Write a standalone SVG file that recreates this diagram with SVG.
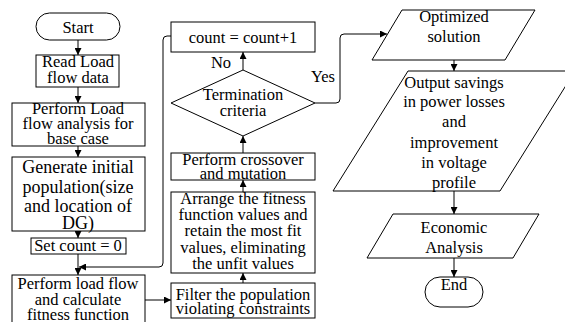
<svg xmlns="http://www.w3.org/2000/svg" width="565" height="322" viewBox="0 0 565 322">
<defs>
<marker id="ah" markerUnits="userSpaceOnUse" markerWidth="8" markerHeight="7" refX="7" refY="3.5" orient="auto">
<path d="M0,0 L7,3.5 L0,7 z" fill="#000"/>
</marker>
<style>
.s{fill:#fff;stroke:#000;stroke-width:1}
.t{font-size:16.5px;fill:#000;text-anchor:middle}
.g{font-size:18px}
.c{fill:none;stroke:#000;stroke-width:1;marker-end:url(#ah)}
</style>
</defs>
<rect width="565" height="322" fill="#fff"/>
<g id="connectors">
<path class="c" d="M78,40 V55"/>
<path class="c" d="M78,87 V103"/>
<path class="c" d="M78,146 V157"/>
<path class="c" d="M78,231 V238"/>
<path class="c" d="M78,254 V275"/>
<path class="c" d="M171,36 H167 Q163,36 163,40 V263 Q163,267 159,267 H79"/>
<path class="c" d="M145,300 H171"/>
<path class="c" d="M243,283 V273"/>
<path class="c" d="M243,192 V180"/>
<path class="c" d="M243,153 V136"/>
<path class="c" d="M243,70 V52"/>
<path class="c" d="M315,103 H336 Q340,103 340,99 V38 Q340,34 344,34 H387"/>
<path class="c" d="M454,60 V71"/>
<path class="c" d="M454,191 V214"/>
<path class="c" d="M454,258 V277"/>
<text class="t" font-family="Liberation Serif" x="221" y="68">No</text>
<text class="t" font-family="Liberation Serif" x="323" y="82">Yes</text>
</g>
<g id="start">
<rect class="s" x="36" y="13" width="84" height="27" rx="13.5" ry="13.5"/>
<text class="t" font-family="Liberation Serif" x="78" y="33">Start</text>
</g>
<g id="read">
<rect class="s" x="36" y="55" width="83" height="32"/>
<text class="t" font-family="Liberation Serif" x="78" y="67">Read Load</text>
<text class="t" font-family="Liberation Serif" x="78" y="83">flow data</text>
</g>
<g id="baseflow">
<rect class="s" x="12" y="103" width="133" height="43"/>
<text class="t" font-family="Liberation Serif" x="78" y="114">Perform Load</text>
<text class="t" font-family="Liberation Serif" x="78" y="129">flow analysis for</text>
<text class="t" font-family="Liberation Serif" x="78" y="144">base case</text>
</g>
<g id="generate">
<rect class="s" x="12" y="157" width="133" height="74"/>
<text class="t g" font-family="Liberation Serif" x="78" y="173">Generate initial</text>
<text class="t g" font-family="Liberation Serif" x="78" y="193">population(size</text>
<text class="t g" font-family="Liberation Serif" x="78" y="212">and location of</text>
<text class="t g" font-family="Liberation Serif" x="78" y="229">DG)</text>
</g>
<g id="setcount">
<rect class="s" x="31" y="238" width="95" height="16"/>
<text class="t" font-family="Liberation Serif" x="78" y="251">Set count = 0</text>
</g>
<g id="loadflow">
<rect class="s" x="12" y="275" width="133" height="52"/>
<text class="t" font-family="Liberation Serif" x="78" y="289">Perform load flow</text>
<text class="t" font-family="Liberation Serif" x="78" y="305">and calculate</text>
<text class="t" font-family="Liberation Serif" x="78" y="320">fitness function</text>
</g>
<g id="filter">
<rect class="s" x="171" y="283" width="144" height="35"/>
<text class="t" font-family="Liberation Serif" x="243" y="300">Filter the population</text>
<text class="t" font-family="Liberation Serif" x="243" y="314">violating constraints</text>
</g>
<g id="arrange">
<rect class="s" x="171" y="192" width="144" height="81"/>
<text class="t" font-family="Liberation Serif" x="243" y="204">Arrange the fitness</text>
<text class="t" font-family="Liberation Serif" x="243" y="220">function values and</text>
<text class="t" font-family="Liberation Serif" x="243" y="236">retain the most fit</text>
<text class="t" font-family="Liberation Serif" x="243" y="253">values, eliminating</text>
<text class="t" font-family="Liberation Serif" x="243" y="269">the unfit values</text>
</g>
<g id="crossover">
<rect class="s" x="171" y="153" width="144" height="27"/>
<text class="t" font-family="Liberation Serif" x="243" y="165">Perform crossover</text>
<text class="t" font-family="Liberation Serif" x="243" y="179">and mutation</text>
</g>
<g id="termination">
<path class="s" d="M171,103 L243,70 L315,103 L243,136 Z"/>
<text class="t" font-family="Liberation Serif" x="243" y="100">Termination</text>
<text class="t" font-family="Liberation Serif" x="243" y="116">criteria</text>
</g>
<g id="countinc">
<rect class="s" x="171" y="22" width="144" height="30"/>
<text class="t" font-family="Liberation Serif" x="243" y="43">count = count+1</text>
</g>
<g id="optimized">
<path class="s" d="M402,10 L535,10 L505,60 L372,60 Z"/>
<text class="t" font-family="Liberation Serif" x="454" y="22">Optimized</text>
<text class="t" font-family="Liberation Serif" x="454" y="42">solution</text>
</g>
<g id="output">
<path class="s" d="M408,71 L575,71 L500,191 L333,191 Z"/>
<text class="t" font-family="Liberation Serif" x="454" y="88">Output savings</text>
<text class="t" font-family="Liberation Serif" x="454" y="107">in power losses</text>
<text class="t" font-family="Liberation Serif" x="454" y="127">and</text>
<text class="t" font-family="Liberation Serif" x="454" y="148">improvement</text>
<text class="t" font-family="Liberation Serif" x="454" y="168">in voltage</text>
<text class="t" font-family="Liberation Serif" x="454" y="188">profile</text>
</g>
<g id="economic">
<path class="s" d="M393,214 L539,214 L513,258 L367,258 Z"/>
<text class="t" font-family="Liberation Serif" x="454" y="233">Economic</text>
<text class="t" font-family="Liberation Serif" x="454" y="253">Analysis</text>
</g>
<g id="end">
<rect class="s" x="425" y="277" width="58" height="30" rx="15" ry="15"/>
<text class="t" font-family="Liberation Serif" x="454" y="290">End</text>
</g>
</svg>
